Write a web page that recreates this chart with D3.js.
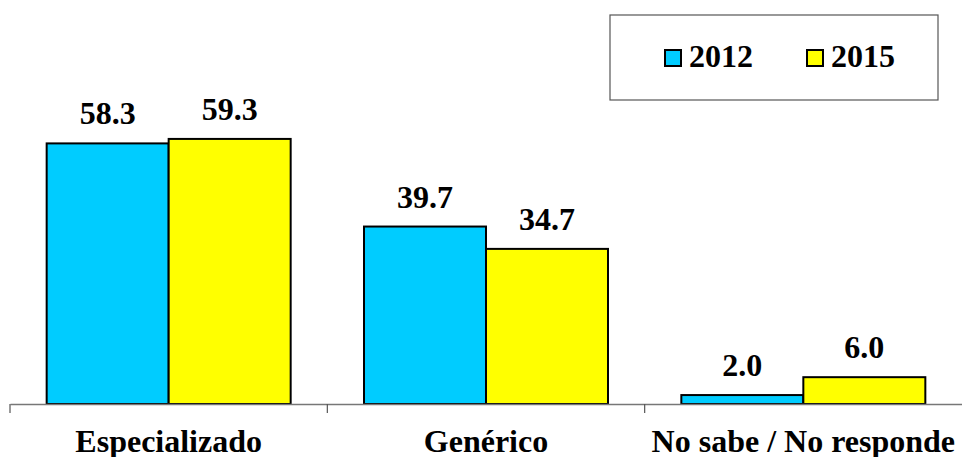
<!DOCTYPE html>
<html><head><meta charset="utf-8">
<script src="https://cdn.jsdelivr.net/npm/d3@7"></script>
<style>body{margin:0;background:#fff}svg{display:block}</style>
</head><body>
<script>
const categories = ["Especializado", "Genérico", "No sabe / No responde"];
const seriesNames = ["2012", "2015"];
const values2012 = [58.3, 39.7, 2.0];
const values2015 = [59.3, 34.7, 6.0];
const colors = ["#00CCFF", "#FFFF00"];

const W = 962, H = 457;
const svg = d3.select("body").append("svg").attr("width", W).attr("height", H);
const font = "'Liberation Serif', 'Times New Roman', serif";

const x = d3.scaleBand().domain(categories).range([10, 962]).paddingInner(0).paddingOuter(0);
const y = d3.scaleLinear().domain([0, 70]).range([404, 404 - 70 * 4.47]);
const xs = d3.scaleBand().domain(seriesNames).range([0, 244]);

const data = categories.map((c, i) => ({c, vals: [values2012[i], values2015[i]]}));

const g = svg.append("g");
data.forEach(d => {
  const x0 = x(d.c) + (x.bandwidth() - 244) / 2;
  d.vals.forEach((v, j) => {
    g.append("rect")
      .attr("x", x0 + xs(seriesNames[j]))
      .attr("y", y(v))
      .attr("width", xs.bandwidth())
      .attr("height", y(0) - y(v))
      .attr("fill", colors[j])
      .attr("stroke", "#000").attr("stroke-width", 2);
    g.append("text")
      .attr("x", x0 + xs(seriesNames[j]) + xs.bandwidth() / 2)
      .attr("y", y(v) - 19)
      .attr("text-anchor", "middle")
      .attr("font-family", font).attr("font-weight", "bold").attr("font-size", 32)
      .text(v.toFixed(1));
  });
});

// axis
const axis = d3.axisBottom(x).tickSize(0).tickFormat("");
const ax = svg.append("g").attr("transform", "translate(0,404)").call(axis);
ax.select(".domain").attr("stroke", "#777").attr("stroke-width", 1.5);
const tickPos = [10, 10 + x.bandwidth(), 10 + 2 * x.bandwidth()];
ax.selectAll(".sep").data(tickPos).enter().append("line")
  .attr("x1", d => d).attr("x2", d => d).attr("y1", 0).attr("y2", 9)
  .attr("stroke", "#555").attr("stroke-width", 1.2);
svg.selectAll(".cat").data(categories).enter().append("text")
  .attr("x", d => x(d) + x.bandwidth() / 2)
  .attr("y", 452)
  .attr("text-anchor", "middle")
  .attr("font-family", font).attr("font-weight", "bold").attr("font-size", 32)
  .text(d => d);

// legend
svg.append("rect").attr("x", 610).attr("y", 15).attr("width", 328).attr("height", 85)
  .attr("fill", "#fff").attr("stroke", "#555").attr("stroke-width", 1.2);
const lx = [665, 807];
seriesNames.forEach((s, j) => {
  svg.append("rect").attr("x", lx[j]).attr("y", 50).attr("width", 16).attr("height", 16)
    .attr("fill", colors[j]).attr("stroke", "#000").attr("stroke-width", 2);
  svg.append("text").attr("x", lx[j] + 24).attr("y", 67)
    .attr("font-family", font).attr("font-weight", "bold").attr("font-size", 32)
    .text(s);
});
</script>
</body></html>
